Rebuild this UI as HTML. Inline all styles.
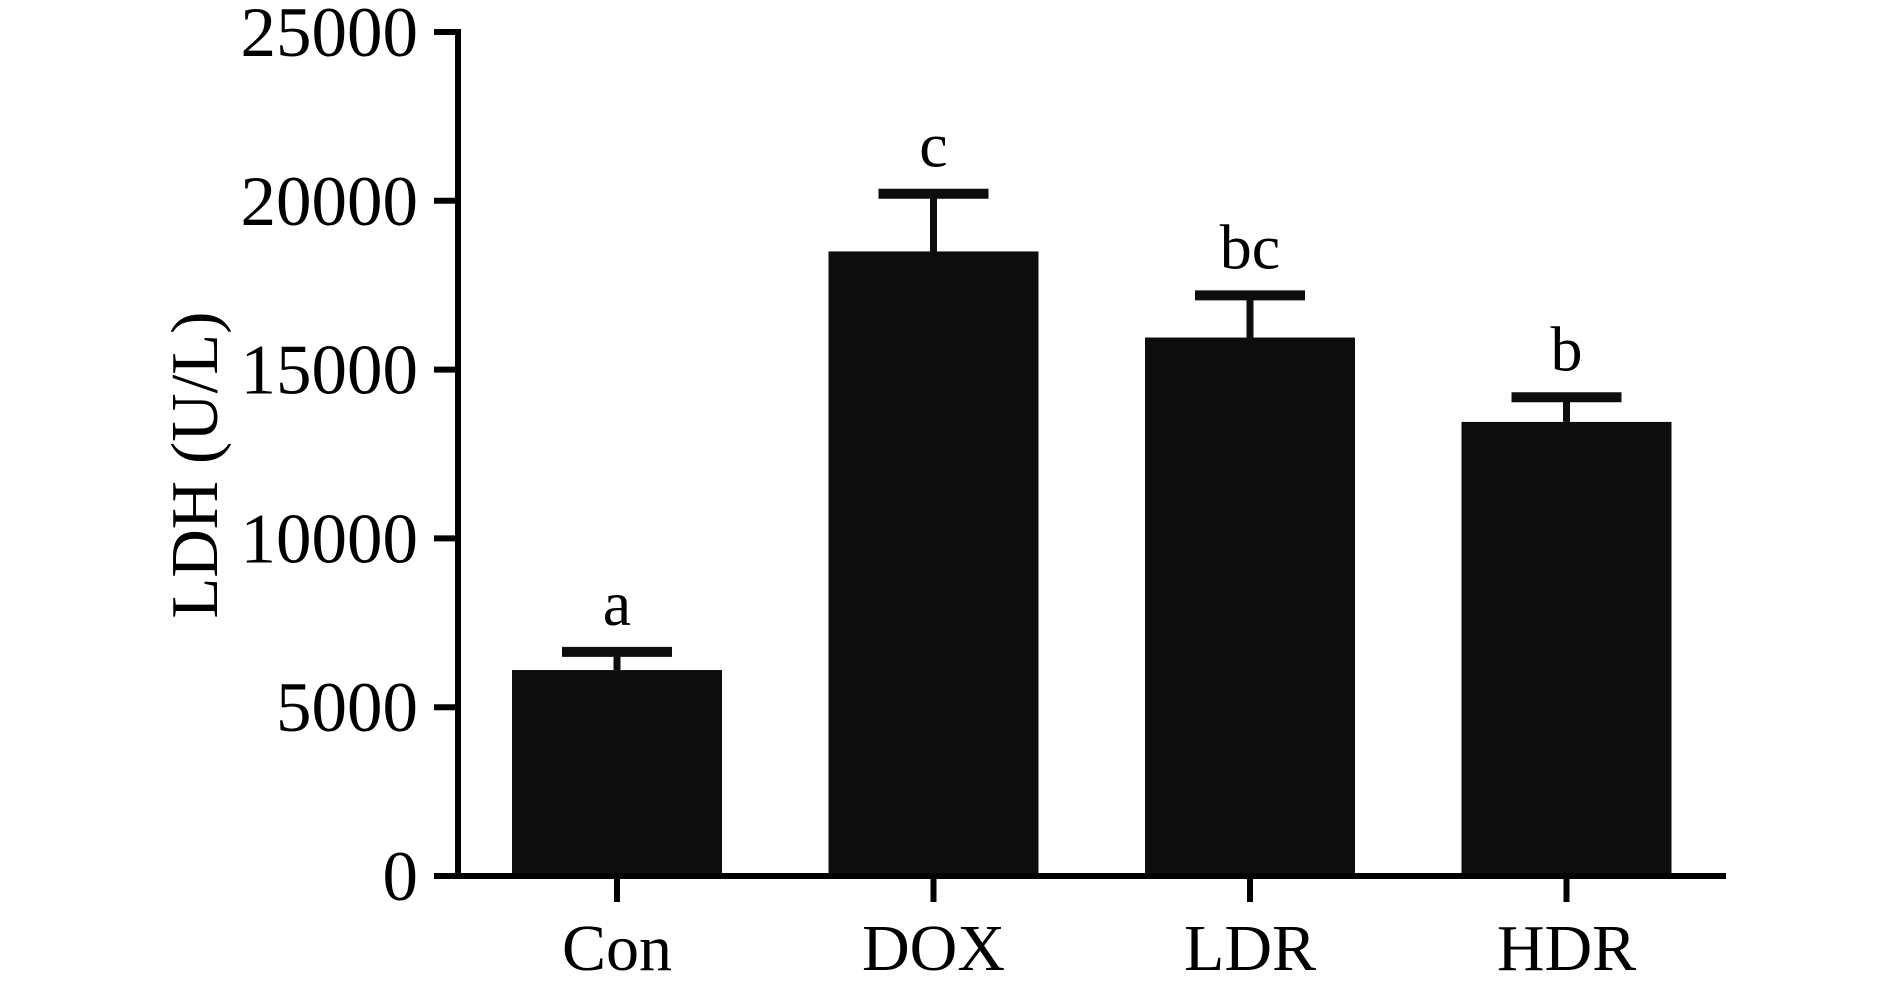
<!DOCTYPE html>
<html><head><meta charset="utf-8"><style>
html,body{margin:0;padding:0;background:#fff;}
svg{display:block;}
text{font-family:"Liberation Serif",serif;fill:#000;}
</style></head><body>
<svg id="chart" width="1890" height="993" viewBox="0 0 1890 993">
<g id="marks"></g>
<g id="axes"></g>
</svg>
<script>
const categories = ["Con","DOX","LDR","HDR"];
const values = [6100, 18500, 15950, 13450];
const errorTops = [6640, 20210, 17200, 14180];
const sigLabels = ["a","c","bc","b"];
const yTicks = [0,5000,10000,15000,20000,25000];

const NS="http://www.w3.org/2000/svg";
const yMin=0,yMax=25000,py0=876,py1=32;
function yScale(v){return py0-(v-yMin)/(yMax-yMin)*(py0-py1);}
const xStart=434,xEnd=1726,firstC=617,step=316.5,barW=210;
function xScale(i){return firstC+i*step;}
function mk(tag,attrs,parent){const e=document.createElementNS(NS,tag);for(const k in attrs)e.setAttribute(k,attrs[k]);parent.appendChild(e);return e;}
const marks=document.getElementById('marks');
const axes=document.getElementById('axes');

categories.forEach((c,i)=>{
  const cx=xScale(i);
  const el=mk('line',{x1:cx,x2:cx,y1:yScale(errorTops[i]),y2:yScale(values[i]),stroke:'#0d0d0d','stroke-width':7},marks);
  
  
  const cap=mk('line',{x1:cx-55,x2:cx+55,y1:yScale(errorTops[i]),y2:yScale(errorTops[i]),stroke:'#0d0d0d','stroke-width':10},marks);
  
  
  const b=mk('rect',{x:cx-barW/2,y:yScale(values[i]),width:barW,height:yScale(0)-yScale(values[i]),fill:'#0d0d0d'},marks);
  
  
  const t=mk('text',{x:cx,y:yScale(errorTops[i])-27,'text-anchor':'middle','font-size':64},marks);
  t.textContent=sigLabels[i];
  
  
  const tk=mk('line',{x1:cx,x2:cx,y1:py0,y2:902,stroke:'#000','stroke-width':6},axes);
  
  
  const xl=mk('text',{x:cx,y:970,'text-anchor':'middle','font-size':66},axes);
  xl.textContent=c;
  
  
});

const ya=mk('line',{x1:458,x2:458,y1:py1-3,y2:py0+3,stroke:'#000','stroke-width':6},axes);


const xa=mk('line',{x1:xStart,x2:xEnd,y1:py0,y2:py0,stroke:'#000','stroke-width':6},axes);


yTicks.forEach(v=>{
  const y=yScale(v);
  const t=mk('line',{x1:434,x2:458,y1:y,y2:y,stroke:'#000','stroke-width':6},axes);
  
  
  const l=mk('text',{x:418,y:y+24,'text-anchor':'end','font-size':71},axes);
  l.textContent=v;
  
  
});
const yt=mk('text',{x:0,y:0,'text-anchor':'middle','font-size':67,transform:'translate(217,465) rotate(-90)'},axes);
yt.textContent='LDH (U/L)';


</script>
</body></html>
